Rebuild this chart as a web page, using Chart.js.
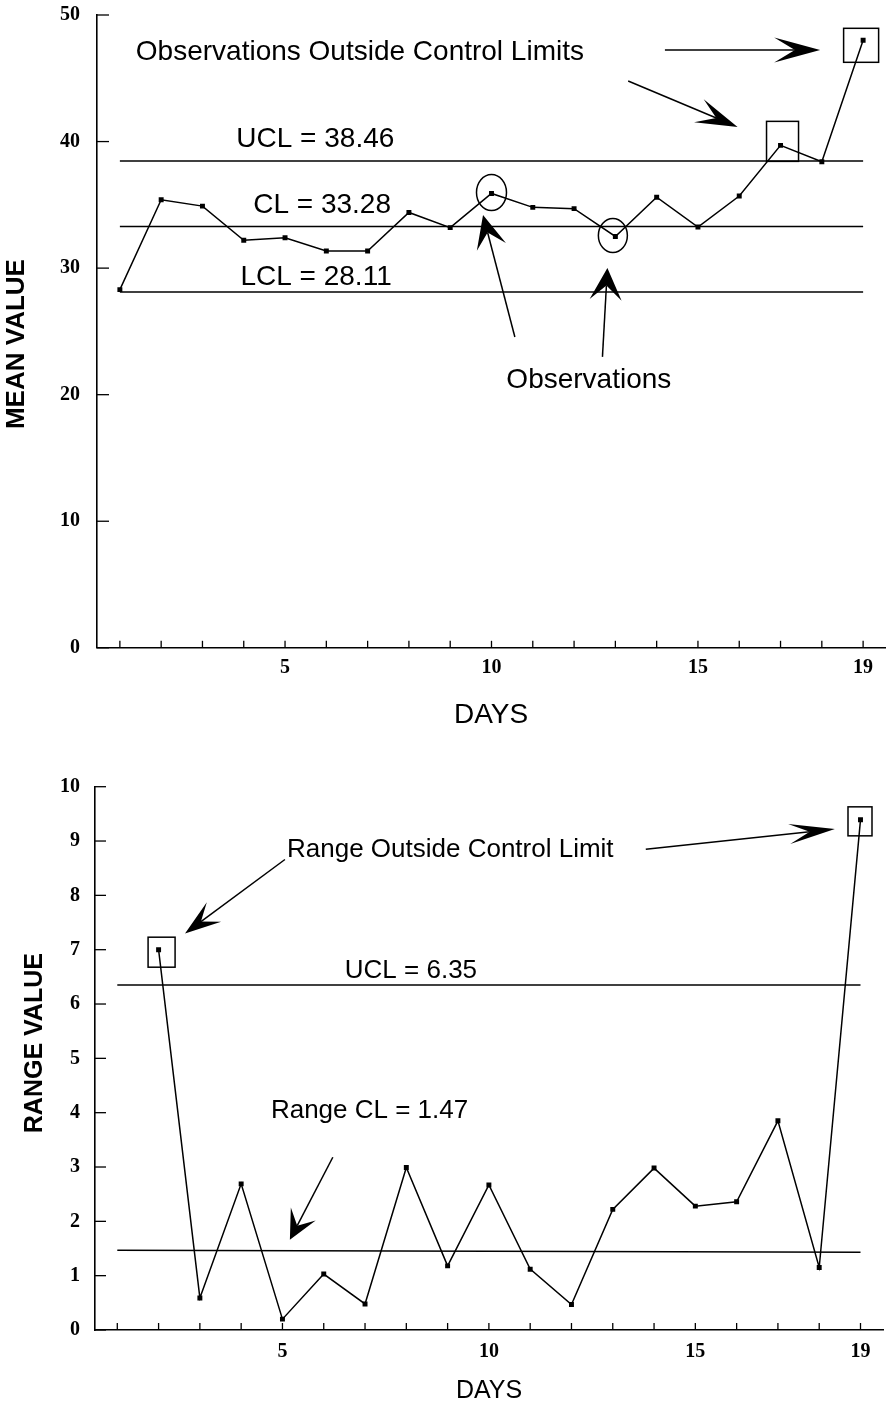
<!DOCTYPE html>
<html>
<head>
<title>Mean and Range Control Charts</title>
<script src="https://cdn.jsdelivr.net/npm/chart.js"></script>
<style>
body { margin: 0; background: #fff; }
#wrap { position: relative; width: 889px; height: 1407px; }
canvas { position: absolute; left: 0; }
#meanChart { top: 0; }
#rangeChart { top: 760px; }
</style>
</head>
<body>
<div id="wrap">
  <canvas id="meanChart" width="889" height="760"></canvas>
  <canvas id="rangeChart" width="889" height="647"></canvas>
</div>
<script>
// data
var days = [1, 2, 3, 4, 5, 6, 7, 8, 9, 10, 11, 12, 13, 14, 15, 16, 17, 18, 19];
var meanValues = [28.3, 35.4, 34.9, 32.2, 32.4, 31.35, 31.35, 34.4, 33.2, 35.9, 34.8, 34.7, 32.5, 35.6, 33.25, 35.7, 39.7, 38.4, 48.0];
var meanUcl = 38.46, meanCl = 33.28, meanLcl = 28.11;

var rangeDays = [2, 3, 4, 5, 6, 7, 8, 9, 10, 11, 12, 13, 14, 15, 16, 17, 18, 19];
var rangeValues = [7.0, 0.59, 2.69, 0.2, 1.03, 0.48, 2.99, 1.18, 2.67, 1.12, 0.47, 2.22, 2.98, 2.28, 2.36, 3.85, 1.15, 9.39];
var rangeUcl = 6.35, rangeCl = 1.47;
var rangeClRight = 1.43; // the printed CL line sags slightly to the right

var meanTicks = [0, 10, 20, 30, 40, 50];
var rangeTicks = [0, 1, 2, 3, 4, 5, 6, 7, 8, 9, 10];
var dayLabels = [5, 10, 15, 19];

var SANS = "'Liberation Sans', Arial, sans-serif";
var SERIF = "'Liberation Serif', 'Times New Roman', serif";

function drawArrow(ctx, x1, y1, x2, y2, L, W) {
    var a = Math.atan2(y2 - y1, x2 - x1);
    var ux = Math.cos(a), uy = Math.sin(a);
    var px = -uy, py = ux;
    var nx = x2 - ux * L * 0.55, ny = y2 - uy * L * 0.55;
    ctx.beginPath();
    ctx.moveTo(x1, y1);
    ctx.lineTo(nx, ny);
    ctx.stroke();
    var bx = x2 - ux * L, by = y2 - uy * L;
    ctx.beginPath();
    ctx.moveTo(x2, y2);
    ctx.lineTo(bx + px * W, by + py * W);
    ctx.lineTo(nx, ny);
    ctx.lineTo(bx - px * W, by - py * W);
    ctx.closePath();
    ctx.fill();
}

// extra drawing: inside tick marks, y title, notes, arrows, boxes, rings
function makeDecor(notes) {
    return {
        id: 'decor',
        afterDraw: function(chart) {
            var ctx = chart.ctx, xs = chart.scales.x, ys = chart.scales.y, area = chart.chartArea;
            ctx.save();
            ctx.strokeStyle = '#000';
            ctx.fillStyle = '#000';
            ctx.lineWidth = 1.3;

            xs.ticks.forEach(function(t) {
                var px = xs.getPixelForValue(t.value);
                ctx.beginPath();
                ctx.moveTo(px, area.bottom);
                ctx.lineTo(px, area.bottom - notes.xTickLen);
                ctx.stroke();
            });
            ys.ticks.forEach(function(t) {
                var py = ys.getPixelForValue(t.value);
                ctx.beginPath();
                ctx.moveTo(area.left, py);
                ctx.lineTo(area.left + notes.yTickLen, py);
                ctx.stroke();
            });

            // y axis title
            ctx.save();
            ctx.translate(notes.yTitle.x, ys.getPixelForValue(notes.yTitle.at));
            ctx.rotate(-Math.PI / 2);
            ctx.font = 'bold ' + notes.yTitle.size + 'px ' + SANS;
            ctx.textAlign = 'center';
            ctx.textBaseline = 'middle';
            ctx.fillText(notes.yTitle.text, 0, 0);
            ctx.restore();

            ctx.font = notes.fontSize + 'px ' + SANS;
            ctx.textAlign = 'left';
            ctx.textBaseline = 'alphabetic';
            notes.texts.forEach(function(t) {
                ctx.fillText(t.text, xs.getPixelForValue(t.x), ys.getPixelForValue(t.y));
            });

            ctx.lineWidth = 1.5;
            notes.arrows.forEach(function(a) {
                drawArrow(ctx,
                    xs.getPixelForValue(a.from[0]), ys.getPixelForValue(a.from[1]),
                    xs.getPixelForValue(a.to[0]), ys.getPixelForValue(a.to[1]),
                    a.L, a.W);
            });

            notes.boxes.forEach(function(b) {
                var cx = xs.getPixelForValue(b.x) + b.dx, cy = ys.getPixelForValue(b.y) + b.dy;
                ctx.strokeRect(cx - b.w / 2, cy - b.h / 2, b.w, b.h);
            });
            notes.rings.forEach(function(r) {
                var cx = xs.getPixelForValue(r.x) + r.dx, cy = ys.getPixelForValue(r.y) + r.dy;
                ctx.beginPath();
                ctx.ellipse(cx, cy, r.rx, r.ry, 0, 0, Math.PI * 2);
                ctx.stroke();
            });
            ctx.restore();
        }
    };
}

function seriesSet(xs, ys) {
    return {
        data: xs.map(function(d, i) { return { x: d, y: ys[i] }; }),
        borderColor: '#000',
        borderWidth: 1.5,
        pointStyle: 'rect',
        pointRadius: 3.5,
        pointBackgroundColor: '#000',
        pointBorderWidth: 0,
        tension: 0
    };
}

function limitSet(x0, x1, y0, y1) {
    return {
        data: [{ x: x0, y: y0 }, { x: x1, y: y1 }],
        borderColor: '#000',
        borderWidth: 1.5,
        pointRadius: 0
    };
}

function chartOptions(cfg) {
    return {
        responsive: false,
        animation: false,
        layout: { padding: cfg.padding },
        plugins: { legend: { display: false }, tooltip: { enabled: false } },
        scales: {
            x: {
                type: 'linear',
                min: cfg.xMin,
                max: cfg.xMax,
                afterBuildTicks: function(s) { s.ticks = days.map(function(d) { return { value: d }; }); },
                afterFit: function(s) {
                    s.height = cfg.xHeight;
                    s.paddingLeft = 0;
                    s.paddingRight = 0;
                },
                grid: { drawOnChartArea: false, drawTicks: false },
                border: { display: true, color: '#000', width: 1.6 },
                ticks: {
                    autoSkip: false,
                    maxRotation: 0,
                    padding: cfg.xTickPad,
                    color: '#000',
                    font: { family: SERIF, size: cfg.tickSize, weight: 'bold' },
                    callback: function(v) { return dayLabels.indexOf(v) >= 0 ? String(v) : ''; }
                },
                title: {
                    display: true,
                    text: 'DAYS',
                    color: '#000',
                    font: { family: SANS, size: cfg.xTitleSize },
                    padding: { top: 0, bottom: cfg.xTitlePad }
                }
            },
            y: {
                min: cfg.yTicks[0],
                max: cfg.yTicks[cfg.yTicks.length - 1],
                afterBuildTicks: function(s) { s.ticks = cfg.yTicks.map(function(v) { return { value: v }; }); },
                afterFit: function(s) {
                    s.width = cfg.yWidth;
                    s.paddingTop = 0;
                    s.paddingBottom = 0;
                },
                grid: { drawOnChartArea: false, drawTicks: false },
                border: { display: true, color: '#000', width: 1.6 },
                ticks: {
                    padding: cfg.yTickPad,
                    color: '#000',
                    font: { family: SERIF, size: cfg.tickSize, weight: 'bold' }
                }
            }
        }
    };
}

var meanNotes = {
    xTickLen: 7, yTickLen: 12, fontSize: 28,
    yTitle: { text: 'MEAN VALUE', x: 17, at: 24, size: 26 },
    texts: [
        { text: 'Observations Outside Control Limits', x: 1.386, y: 46.44 },
        { text: 'UCL = ' + meanUcl.toFixed(2), x: 3.82, y: 39.57 },
        { text: 'CL = ' + meanCl.toFixed(2), x: 4.23, y: 34.36 },
        { text: 'LCL = ' + meanLcl.toFixed(2), x: 3.92, y: 28.67 },
        { text: 'Observations', x: 10.36, y: 20.53 }
    ],
    arrows: [
        { from: [14.20, 47.23], to: [17.96, 47.23], L: 46, W: 12.5 },
        { from: [13.31, 44.78], to: [15.96, 41.15], L: 42, W: 12.5 },
        { from: [10.566, 24.56], to: [9.795, 34.2], L: 33, W: 15 },
        { from: [12.687, 22.99], to: [12.807, 30.01], L: 32, W: 16 }
    ],
    boxes: [
        { x: 17, y: meanValues[16], w: 32, h: 40, dx: 2, dy: -4 },
        { x: 19, y: meanValues[18], w: 35, h: 34, dx: -2, dy: 5 }
    ],
    rings: [
        { x: 10, y: meanValues[9], rx: 15, ry: 18, dx: 0, dy: -1 },
        { x: 13, y: meanValues[12], rx: 14.5, ry: 17, dx: -2.5, dy: -1 }
    ]
};

var rangeNotes = {
    xTickLen: 7, yTickLen: 11, fontSize: 26,
    yTitle: { text: 'RANGE VALUE', x: 35, at: 5.28, size: 25 },
    texts: [
        { text: 'Range Outside Control Limit', x: 5.11, y: 8.71 },
        { text: 'UCL = ' + rangeUcl.toFixed(2), x: 6.51, y: 6.47 },
        { text: 'Range CL = ' + rangeCl.toFixed(2), x: 4.72, y: 3.90 }
    ],
    arrows: [
        { from: [5.06, 8.66], to: [2.64, 7.30], L: 36, W: 12 },
        { from: [13.80, 8.85], to: [18.38, 9.22], L: 46, W: 10 },
        { from: [6.22, 3.18], to: [5.18, 1.66], L: 29, W: 14 }
    ],
    boxes: [
        { x: 2, y: rangeValues[0], w: 27, h: 30, dx: 3, dy: 2.5 },
        { x: 19, y: rangeValues[17], w: 24, h: 29, dx: -0.5, dy: 1.5 }
    ],
    rings: []
};

new Chart(document.getElementById('meanChart'), {
    type: 'line',
    data: {
        datasets: [
            limitSet(1, 19, meanUcl, meanUcl),
            limitSet(1, 19, meanCl, meanCl),
            limitSet(1, 19, meanLcl, meanLcl),
            seriesSet(days, meanValues)
        ]
    },
    options: chartOptions({
        padding: { top: 15, right: 0, bottom: 0, left: 0 },
        xMin: 0.446, xMax: 19.53, xHeight: 112.2, xTickPad: 8, xTitleSize: 28, xTitlePad: 28,
        yTicks: meanTicks, yWidth: 97, yTickPad: 17, tickSize: 20
    }),
    plugins: [makeDecor(meanNotes)]
});

new Chart(document.getElementById('rangeChart'), {
    type: 'line',
    data: {
        datasets: [
            limitSet(1, 19, rangeUcl, rangeUcl),
            limitSet(1, 19, rangeCl, rangeClRight),
            seriesSet(rangeDays, rangeValues)
        ]
    },
    options: chartOptions({
        padding: { top: 26.7, right: 6, bottom: 0, left: 0 },
        xMin: 0.46, xMax: 19.545, xHeight: 77, xTickPad: 10, xTitleSize: 25, xTitlePad: 1,
        yTicks: rangeTicks, yWidth: 95, yTickPad: 15, tickSize: 20
    }),
    plugins: [makeDecor(rangeNotes)]
});
</script>
</body>
</html>
